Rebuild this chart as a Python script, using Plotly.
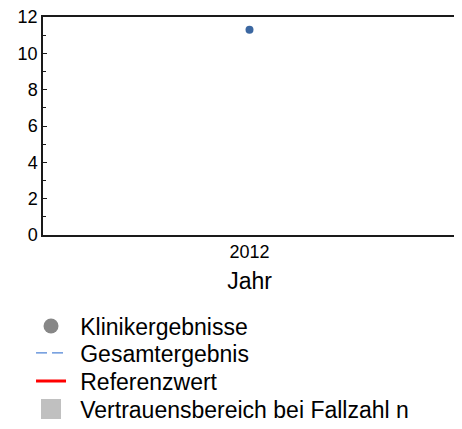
import plotly.graph_objects as go

years = ["2012"]
klinik_values = [11.3]
y_tickvals = [0, 2, 4, 6, 8, 10, 12]
y_ticktext = ["0", "2", "4", "6", "8", "10", "12"]
legend_names = ["Klinikergebnisse", "Gesamtergebnis", "Referenzwert", "Vertrauensbereich bei Fallzahl n"]

FONT = "Arial, 'Liberation Sans', sans-serif"
pad = "\u2009\u2009"

fig = go.Figure()

# data points
fig.add_trace(go.Scatter(
    x=years, y=klinik_values, mode="markers",
    marker=dict(color="#3b67a1", size=8),
    showlegend=False, hoverinfo="y"))

# legend entries (each in its own legend box for precise spacing)
fig.add_trace(go.Scatter(
    x=[None], y=[None], mode="markers", name=pad + legend_names[0], legend="legend",
    marker=dict(color="#878787", size=15, symbol="circle")))
fig.add_trace(go.Scatter(
    x=[None], y=[None], mode="lines", name=pad + legend_names[1], legend="legend2",
    line=dict(color="#4f84d6", width=1.2, dash="11px,5px")))
fig.add_trace(go.Scatter(
    x=[None], y=[None], mode="lines", name=pad + legend_names[2], legend="legend3",
    line=dict(color="#ff0000", width=3)))
fig.add_trace(go.Scatter(
    x=[None], y=[None], mode="markers", name=pad + legend_names[3], legend="legend4",
    marker=dict(color="#c0c0c0", size=16, symbol="square",
                line=dict(color="#c0c0c0", width=4))))

def leg(y):
    return dict(
        x=-0.029, xanchor="left", y=y, yanchor="middle",
        font=dict(size=23, family=FONT, color="#000000"),
        bgcolor="rgba(0,0,0,0)", borderwidth=0,
    )

fig.update_layout(
    width=454, height=421,
    margin=dict(l=35, r=6, t=9, b=194, autoexpand=False),
    paper_bgcolor="white", plot_bgcolor="white",
    font=dict(family=FONT, color="#000000"),
    showlegend=True,
    legend=leg(-0.4174),
    legend2=leg(-0.5413),
    legend3=leg(-0.6697),
    legend4=leg(-0.7982),
    xaxis=dict(
        type="category", range=[-1, 1], automargin=False,
        showgrid=False, zeroline=False,
        showline=True, linecolor="#1a1a1a", linewidth=1.5, mirror=True,
        ticks="", tickfont=dict(size=18),
        title=dict(text="Jahr", font=dict(size=23), standoff=12),
    ),
    yaxis=dict(
        range=[0, 12], tickvals=y_tickvals, ticktext=y_ticktext, automargin=False,
        ticklabeloverflow="allow",
        showgrid=False, zeroline=False,
        showline=True, linecolor="#1a1a1a", linewidth=1.5, mirror=True,
        ticks="inside", ticklen=4, tickcolor="#1a1a1a", tickwidth=1,
        minor=dict(ticks="inside", ticklen=3, dtick=1, tick0=0, tickcolor="#1a1a1a", tickwidth=1),
        tickfont=dict(size=18),
    ),
)

fig.write_html("out.html")
